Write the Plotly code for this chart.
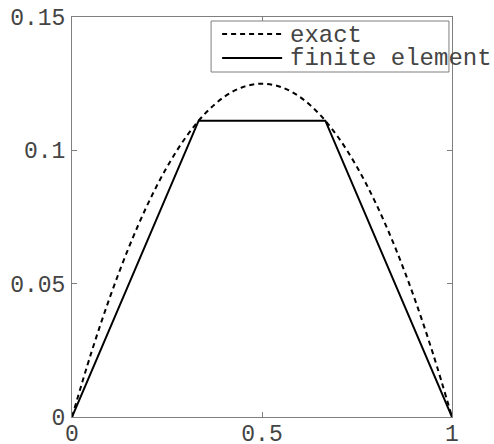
import plotly.graph_objects as go

# Exact solution sampled along [0, 1]
x_exact = [0.0, 0.05, 0.1, 0.15, 0.2, 0.25, 0.3, 0.35, 0.4, 0.45, 0.5,
           0.55, 0.6, 0.65, 0.7, 0.75, 0.8, 0.85, 0.9, 0.95, 1.0]
u_exact = [0.0, 0.02375, 0.045, 0.06375, 0.08, 0.09375, 0.105, 0.11375, 0.12, 0.12375, 0.125,
           0.12375, 0.12, 0.11375, 0.105, 0.09375, 0.08, 0.06375, 0.045, 0.02375, 0.0]

# Finite element nodal solution (three linear elements)
x_fe = [0.0, 0.3333, 0.6667, 1.0]
u_fe = [0.0, 0.1111, 0.1111, 0.0]

legend_names = ["exact", "finite element"]

x_ticks = [0, 0.5, 1]
x_tick_text = ["0", "0.5", "1"]
y_ticks = [0, 0.05, 0.1, 0.15]
y_tick_text = ["0", "0.05", "0.1", "0.15"]

FONT = "Liberation Mono, Courier New, monospace"
AXIS_GRAY = "#7f7f7f"
TEXT = "#444444"

fig = go.Figure()
fig.add_trace(go.Scatter(x=x_exact, y=u_exact, mode="lines", name=legend_names[0],
                         line=dict(color="black", width=2, dash="5px,4px", shape="spline")))
fig.add_trace(go.Scatter(x=x_fe, y=u_fe, mode="lines", name=legend_names[1],
                         line=dict(color="black", width=2)))

axis_common = dict(showgrid=False, zeroline=False, showline=True, linecolor=AXIS_GRAY,
                   linewidth=1, mirror="ticks", ticks="inside", ticklen=5, automargin=False,
                   tickcolor=AXIS_GRAY, tickfont=dict(family=FONT, size=23, color=TEXT))

fig.update_layout(
    width=494, height=444,
    margin=dict(l=72, r=42, t=17, b=27),
    paper_bgcolor="white", plot_bgcolor="white",
    showlegend=False,
    xaxis=dict(range=[0, 1], tickvals=x_ticks, ticktext=x_tick_text, ticklabelstandoff=-5,
               **axis_common),
    yaxis=dict(range=[0, 0.15], tickvals=y_ticks, ticktext=y_tick_text, ticklabelstandoff=1,
               **axis_common),
)

# Legend box drawn in paper coordinates
fig.add_shape(type="rect", xref="paper", yref="paper", x0=0.366, x1=0.992, y0=0.8625, y1=0.99,
              line=dict(color=AXIS_GRAY, width=1), fillcolor="white", layer="above")
fig.add_shape(type="line", xref="paper", yref="paper", x0=0.395, x1=0.553, y0=0.9575, y1=0.9575,
              line=dict(color="black", width=2, dash="5px,4px"), layer="above")
fig.add_shape(type="line", xref="paper", yref="paper", x0=0.395, x1=0.553, y0=0.8975, y1=0.8975,
              line=dict(color="black", width=2), layer="above")
for name, yy in zip(legend_names, [0.955, 0.895]):
    fig.add_annotation(xref="paper", yref="paper", x=0.572, y=yy, text=name, showarrow=False,
                       xanchor="left", yanchor="middle", borderpad=0,
                       font=dict(family=FONT, size=24, color=TEXT))

fig.write_html("out.html")
